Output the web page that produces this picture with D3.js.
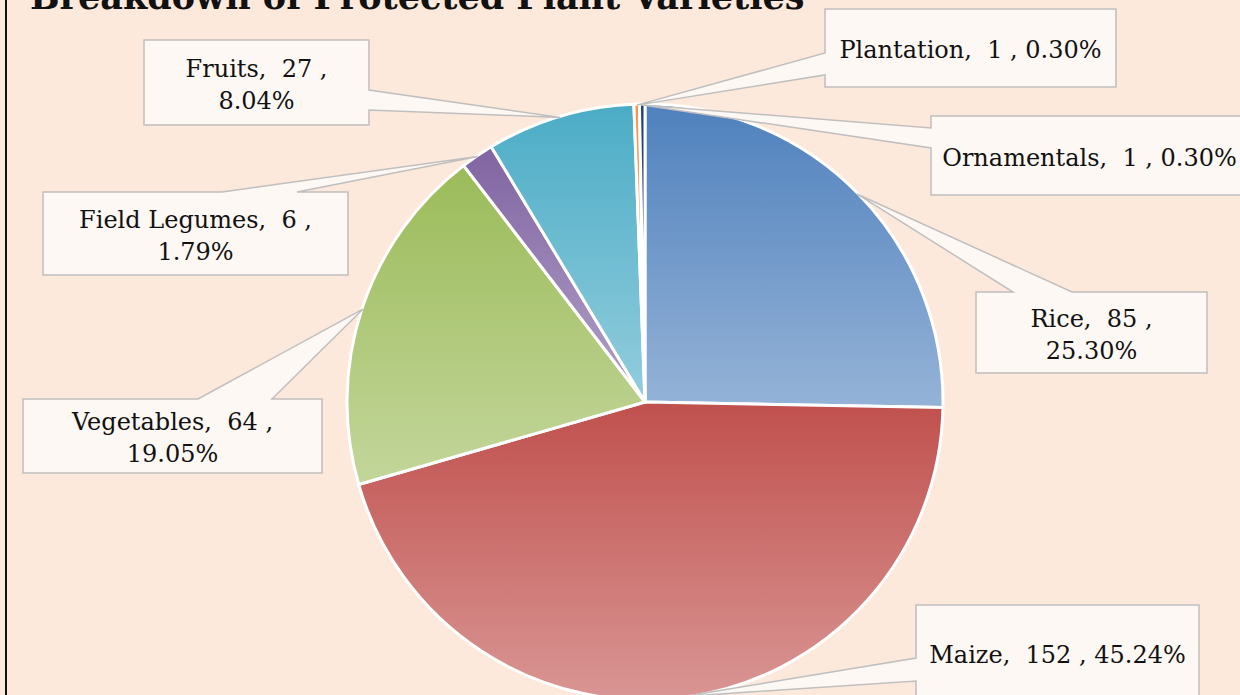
<!DOCTYPE html>
<html>
<head>
<meta charset="utf-8">
<script src="https://cdn.jsdelivr.net/npm/d3@7"></script>
<style>
  html, body { margin: 0; padding: 0; background: #fde9db; }
  svg { display: block; }
  text { font-family: "DejaVu Serif", serif; fill: #111; }
</style>
</head>
<body>
<svg id="chart" width="1240" height="695"></svg>
<script>
// Data
const categories = ['Rice', 'Maize', 'Vegetables', 'Field Legumes', 'Fruits', 'Plantation', 'Ornamentals'];
const values = [85, 152, 64, 6, 27, 1, 1];
const colorsTop = ['#4f81bd', '#c0504d', '#9bbb59', '#8064a2', '#4bacc6', '#f79646', '#1f3f6e'];
const colorsBottom = ['#95b3d7', '#d99694', '#c3d69b', '#b3a2c7', '#93cddd', '#fac090', '#4a6a95'];

// Callout boxes (layout only)
const labelLayout = [
    { x: 976, y: 292, w: 231, h: 81, side: 'top', a: 1013, b: 1072, wrap: true },
    { x: 916, y: 605, w: 283, h: 110, side: 'left', a: 658, b: 681, wrap: false, cy: 653 },
    { x: 23, y: 399, w: 299, h: 74, side: 'top', a: 198, b: 272, wrap: true },
    { x: 43, y: 192, w: 305, h: 83, side: 'top', a: 222, b: 297, wrap: true },
    { x: 144, y: 40, w: 225, h: 85, side: 'right', a: 90, b: 110, wrap: true },
    { x: 825, y: 9, w: 291, h: 78, side: 'left', a: 53, b: 75, wrap: false },
    { x: 931, y: 116, w: 317, h: 79, side: 'left', a: 128, b: 148, wrap: false }
];

const svg = d3.select('#chart');
const width = 1240, height = 695;
const cx = 645, cy = 402, radius = 298;

// chart area border (only left edge visible)
svg.append('rect')
    .attr('x', 6).attr('y', -10)
    .attr('width', width + 20).attr('height', height + 20)
    .attr('fill', '#fde9db')
    .attr('stroke', '#111')
    .attr('stroke-width', 2);

// title (cut off by the top edge, as in the original)
svg.append('text')
    .attr('x', 30).attr('y', 9)
    .attr('font-size', 35)
    .attr('font-weight', 'bold')
    .text('Breakdown of Protected Plant Varieties');

// gradients
const defs = svg.append('defs');
categories.forEach((c, i) => {
    const g = defs.append('linearGradient')
        .attr('id', 'grad' + i)
        .attr('x1', 0).attr('y1', 0).attr('x2', 0).attr('y2', 1);
    g.append('stop').attr('offset', '0%').attr('stop-color', colorsTop[i]);
    g.append('stop').attr('offset', '100%').attr('stop-color', colorsBottom[i]);
});

const total = d3.sum(values);
const pie = d3.pie().sort(null).value(d => d)(values);
const arc = d3.arc().innerRadius(0).outerRadius(radius);
const edge = d3.arc().innerRadius(radius - 1).outerRadius(radius - 1);

const g = svg.append('g').attr('transform', `translate(${cx},${cy})`);

// callouts drawn after the pie
const calloutLayer = svg.append('g');

g.selectAll('path.slice')
    .data(pie)
    .join('path')
    .attr('class', 'slice')
    .attr('d', arc)
    .attr('fill', (d, i) => `url(#grad${i})`)
    .attr('stroke', '#fff')
    .attr('stroke-width', 3)
    .attr('stroke-linejoin', 'round');

function calloutPath(box, tip) {
    const { x, y, w, h, side, a, b } = box;
    const p = [];
    p.push([x, y]);
    if (side === 'top') p.push([a, y], tip, [b, y]);
    p.push([x + w, y]);
    if (side === 'right') p.push([x + w, a], tip, [x + w, b]);
    p.push([x + w, y + h]);
    p.push([x, y + h]);
    if (side === 'left') p.push([x, b], tip, [x, a]);
    return 'M' + p.map(q => q.join(',')).join('L') + 'Z';
}

pie.forEach((d, i) => {
    const box = labelLayout[i];
    const c = edge.centroid(d);
    const tip = [cx + c[0], cy + c[1]];
    calloutLayer.append('path')
        .attr('d', calloutPath(box, tip))
        .attr('fill', '#fef8f4')
        .attr('stroke', '#bfbfbf')
        .attr('stroke-width', 1.5)
        .attr('stroke-linejoin', 'miter');

    const pct = (values[i] / total * 100).toFixed(2) + '%';
    const first = `${categories[i]},  ${values[i]} ,`;
    const lines = box.wrap ? [first, pct] : [first + ' ' + pct];
    const midX = box.x + box.w / 2;
    const midY = box.cy !== undefined ? box.cy : box.y + box.h / 2;
    const lh = 32, cap = 20;
    const t = calloutLayer.append('text')
        .attr('text-anchor', 'middle')
        .attr('font-size', 24)
        .style('white-space', 'pre');
    lines.forEach((ln, k) => {
        t.append('tspan')
            .attr('x', midX)
            .attr('y', midY + cap / 2 + (k - (lines.length - 1) / 2) * lh)
            .text(ln);
    });
});
</script>
</body>
</html>
